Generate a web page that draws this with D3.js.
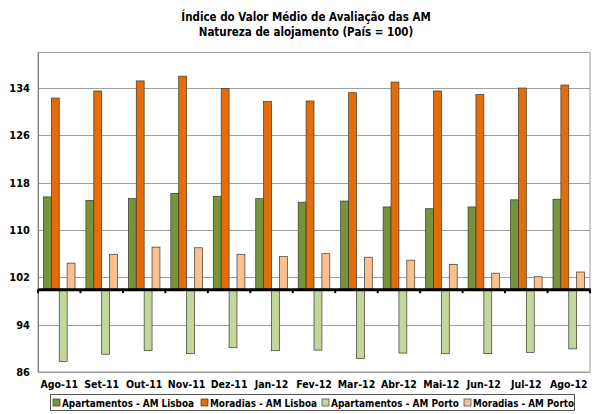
<!DOCTYPE html>
<html>
<head>
<meta charset="utf-8">
<script src="https://cdn.jsdelivr.net/npm/d3@7"></script>
<style>
  html, body { margin: 0; padding: 0; background: #fff; }
  svg text { font-family: "DejaVu Sans Condensed", "DejaVu Sans", sans-serif; font-weight: bold; fill: #000; }
</style>
</head>
<body>
<svg id="chart" width="610" height="414"></svg>
<script>
const titleLines = ["Índice do Valor Médio de Avaliação das AM", "Natureza de alojamento (País = 100)"];
const categories = ["Ago-11","Set-11","Out-11","Nov-11","Dez-11","Jan-12","Fev-12","Mar-12","Abr-12","Mai-12","Jun-12","Jul-12","Ago-12"];
const seriesNames = ["Apartamentos - AM Lisboa","Moradias - AM Lisboa","Apartamentos - AM Porto","Moradias - AM Porto"];
const seriesColors = ["#77933C","#E46C0A","#C3D69B","#FAC090"];
const aptLisboa = [115.6,115.0,115.3,116.2,115.7,115.3,114.7,114.9,113.9,113.6,113.9,115.1,115.2];
const morLisboa = [132.3,133.5,135.2,136.0,133.9,131.7,131.8,133.2,135.0,133.5,132.9,134.0,134.5];
const aptPorto  = [87.8,89.0,89.6,89.1,90.1,89.6,89.7,88.3,89.2,89.1,89.1,89.3,89.9];
const morPorto  = [104.4,105.9,107.1,107.0,105.9,105.5,106.0,105.4,104.9,104.2,102.7,102.1,102.9];
const yTicks = [86,94,102,110,118,126,134];
const yDomain = [86,140];
const baseValue = 100;

const series = [aptLisboa, morLisboa, aptPorto, morPorto];
const svg = d3.select("#chart");

const pLeft = 38, pRight = 590, pTop = 52.5, pBottom = 372;

const y = d3.scaleLinear().domain(yDomain).range([pBottom, pTop]);
const x0 = d3.scaleBand().domain(categories).range([pLeft, pRight]).paddingInner(0.256).paddingOuter(0.128);
const x1 = d3.scaleBand().domain(d3.range(series.length)).range([0, x0.bandwidth()]);

// Title
svg.append("g").selectAll("text").data(titleLines).join("text")
  .attr("x", 306).attr("y", (d,i) => 21 + i*14.5)
  .attr("text-anchor", "middle").style("font-size", "11.5px").text(d => d);

// Plot frame
svg.append("rect").attr("x", pLeft).attr("y", pTop).attr("width", pRight-pLeft).attr("height", pBottom-pTop)
  .attr("fill", "none").attr("stroke", "#9a9a9a").attr("stroke-width", 1);

// gridlines
svg.append("g").selectAll("line").data(yTicks).join("line")
  .attr("x1", pLeft).attr("x2", pRight)
  .attr("y1", d => Math.round(y(d))+0.5).attr("y2", d => Math.round(y(d))+0.5)
  .attr("stroke", "#a0a0a0").attr("stroke-width", 1);

// Y axis
const yAxis = d3.axisLeft(y).tickValues(yTicks).tickSize(0).tickPadding(8);
const gy = svg.append("g").attr("transform", `translate(${pLeft},0)`).call(yAxis);
gy.select(".domain").attr("stroke", "#808080");
gy.selectAll("text").style("font-size", "11px").attr("font-family", null);

// Bars
const groups = svg.append("g").selectAll("g").data(categories).join("g")
  .attr("transform", d => `translate(${x0(d)},0)`);
groups.selectAll("rect").data((d,i) => series.map((s,k) => ({k, v: s[i]}))).join("rect")
  .attr("x", d => x1(d.k))
  .attr("width", x1.bandwidth())
  .attr("y", d => y(Math.max(d.v, baseValue)))
  .attr("height", d => Math.abs(y(d.v) - y(baseValue)))
  .attr("fill", d => seriesColors[d.k])
  .attr("stroke", "#3a3a2a").attr("stroke-width", 0.7);

// Baseline axis at 100
const xAxis = d3.axisBottom(x0).tickSize(0).tickFormat("");
const gx = svg.append("g").attr("transform", `translate(0,${y(baseValue)})`).call(xAxis);
gx.select(".domain").attr("stroke", "#000").attr("stroke-width", 3);
const boundaries = categories.map(c => x0(c) - x0.step()*x0.paddingInner()/2).concat([pRight]);
gx.selectAll("line.bt").data(boundaries).join("line").attr("class","bt")
  .attr("x1", d => d).attr("x2", d => d).attr("y1", 0).attr("y2", 4)
  .attr("stroke", "#000").attr("stroke-width", 2);

// Category labels at the bottom
const xLab = d3.axisBottom(x0).tickSize(0).tickPadding(9);
const gxl = svg.append("g").attr("transform", `translate(0,${pBottom})`).call(xLab);
gxl.select(".domain").remove();
gxl.selectAll("text").style("font-size", "10.5px").attr("font-family", null);

// Legend
const lg = svg.append("g");
lg.append("rect").attr("x", 50.5).attr("y", 394.5).attr("width", 524).attr("height", 16)
  .attr("fill", "#fff").attr("stroke", "#555").attr("stroke-width", 1);
const legX = [53, 201, 322, 464];
const legW = [132, 107, 128, 101];
const items = lg.selectAll("g").data(seriesNames).join("g")
  .attr("transform", (d,i) => `translate(${legX[i]},402.5)`);
items.append("rect").attr("x", 0).attr("y", -3.5).attr("width", 7).attr("height", 7)
  .attr("fill", (d,i) => seriesColors[i]).attr("stroke", "#3a3a2a").attr("stroke-width", 0.7);
items.append("text").attr("x", 9).attr("y", 4).style("font-size", "11px")
  .attr("textLength", (d,i) => legW[i]).attr("lengthAdjust", "spacingAndGlyphs").text(d => d);
</script>
</body>
</html>
